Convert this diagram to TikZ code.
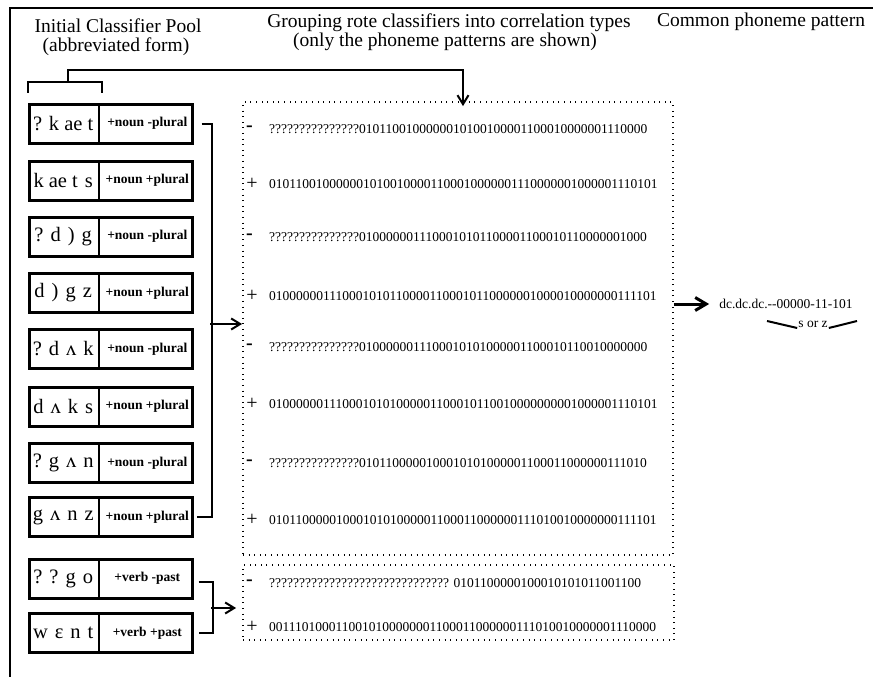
\documentclass[tikz,border=0pt]{standalone}
\usepackage{fontspec}
\setmainfont{Liberation Serif}
\usetikzlibrary{arrows.meta}
\newcommand\pg{\hspace{7pt}}
\begin{document}
\begin{tikzpicture}[x=1pt,y=-1pt,
  frame/.style={line width=2pt},
  title/.style={inner sep=0pt, anchor=base, font=\fontsize{19.5}{22}\selectfont},
  clsbox/.style={draw, line width=3pt, minimum width=163pt, minimum height=39pt, inner sep=0pt},
  phon/.style={minimum width=71pt, minimum height=39pt, inner sep=0pt, font=\fontsize{20.5}{22}\selectfont},
  feat/.style={minimum width=92pt, minimum height=39pt, inner sep=0pt, font=\bfseries\fontsize{13.5}{15}\selectfont},
  divider/.style={line width=2pt},
  conn/.style={line width=2pt},
  barb/.style={-{Straight Barb[length=9pt,width=11pt]}},
  dotbox/.style={draw, line width=1.8pt, dash pattern=on 0.8pt off 4.8pt, inner sep=0pt},
  sign/.style={inner sep=0pt, font=\fontsize{20}{22}\selectfont},
  bits/.style={inner sep=0pt, anchor=west, font=\fontsize{13.5}{15}\selectfont},
  small/.style={inner sep=1pt, font=\fontsize{13.5}{15}\selectfont}]
\useasboundingbox (0,0) rectangle (873,677);

% outer frame
\draw[frame] (10,677) |- (873,8);

% column headings
\node[title] (t1a) at (118,33) {Initial Classifier Pool};
\node[title] (t1b) at (116,52) {(abbreviated form)};
\node[title] (t2a) at (449,28) {Grouping rote classifiers into correlation types};
\node[title] (t2b) at (445,47) {(only the phoneme patterns are shown)};
\node[title] (t3)  at (761,27) {Common phoneme pattern};

% classifier pool
\foreach \i/\y/\ph/\ft in {
  1/123.5/{? k ae t}/{+noun -plural},
  2/180.5/{k ae t\pg s}/{+noun +plural},
  3/236.5/{?\pg d\pg )\pg g}/{+noun -plural},
  4/293/{d\pg )\pg g\pg z}/{+noun +plural},
  5/349/{?\pg d\pg ʌ\pg k}/{+noun -plural},
  6/406.5/{d\pg ʌ\pg k\pg s}/{+noun +plural},
  7/463/{?\pg g\pg ʌ\pg n}/{+noun -plural},
  8/517/{g\pg ʌ\pg n\pg z}/{+noun +plural},
  9/578.5/{?\pg ?\pg g\pg o}/{+verb -past},
  10/633/{w\pg ɛ\pg n\pg t}/{+verb +past}} {
  \node[clsbox] (b\i) at (110.5,\y) {};
  \node[phon, anchor=west] (p\i) at (b\i.west) {\ph};
  \node[feat, anchor=east] (f\i) at (b\i.east) {\ft};
  \draw[divider] (p\i.north east) -- (p\i.south east);
}

% grouping boxes
\node[dotbox, minimum width=430pt, minimum height=453pt] (g1) at (458,328.5) {};
\node[dotbox, minimum width=431pt, minimum height=75pt] (g2) at (458.5,602.5) {};

% correlation rows
\foreach \j/\x/\y/\s/\b in {
  1/249.5/129/{\textbf{-}}/{???????????????0101100100000010100100001100010000001110000},
  2/252/184/{+}/{0101100100000010100100001100010000001110000001000001110101},
  3/249.5/237/{\textbf{-}}/{???????????????0100000011100010101100001100010110000001000},
  4/252/296/{+}/{0100000011100010101100001100010110000001000010000000111101},
  5/249.5/347/{\textbf{-}}/{???????????????0100000011100010101000001100010110010000000},
  6/252/404/{+}/{0100000011100010101000001100010110010000000001000001110101},
  7/249.5/463/{\textbf{-}}/{???????????????0101100000100010101000001100011000000111010},
  8/252/520/{+}/{0101100000100010101000001100011000000111010010000000111101},
  9/249.5/583/{\textbf{-}}/{?????????????????????????????? 0101100000100010101011001100},
  10/252/627/{+}/{0011101000110010100000001100011000000111010010000001110000}} {
  \node[sign] (s\j) at (\x,\y) {\s};
  \node[bits] (r\j) at (269,\y) {\b};
}

% connectors from the pool to the groups
\coordinate (tb) at (68,82);
\coordinate (bend) at (463,70);
\draw[conn] ([yshift=11pt]p1.north west) |- (tb) -| ([xshift=3pt,yshift=11pt]p1.north east);
\draw[conn, barb] (tb) |- (bend) -- ([yshift=-5pt]bend |- g1.north);

\coordinate (nj) at (210,324);
\draw[conn] ([xshift=8pt]b1.east) -| ([xshift=18pt]b8.east) -- ([xshift=3pt]b8.east);
\draw[conn, barb] (nj) -- (nj -| g1.west);

\coordinate (vj) at (211,608);
\draw[conn] ([xshift=5pt,yshift=-3pt]b9.east) -| ([xshift=19pt]b10.east) -- ([xshift=5pt]b10.east);
\draw[conn, barb] (vj) -- ([xshift=-6pt]vj -| g2.west);

% common pattern
\node[small] (pat) at (786,304) {dc.dc.dc.-{}-00000-11-101};
\node[small] (sz) at (813,324) {s or z};
\draw[conn, line width=3pt, -{Straight Barb[length=11pt,width=13pt]}] (g1.east |- pat.west) -- ([xshift=-9pt]pat.west);
\coordinate (szl) at (767,321);
\coordinate (szr) at (857,321);
\draw[conn] (szl) -- ([yshift=-4pt]sz.west);
\draw[conn] ([yshift=-4pt]sz.east) -- (szr);
\end{tikzpicture}
\end{document}
